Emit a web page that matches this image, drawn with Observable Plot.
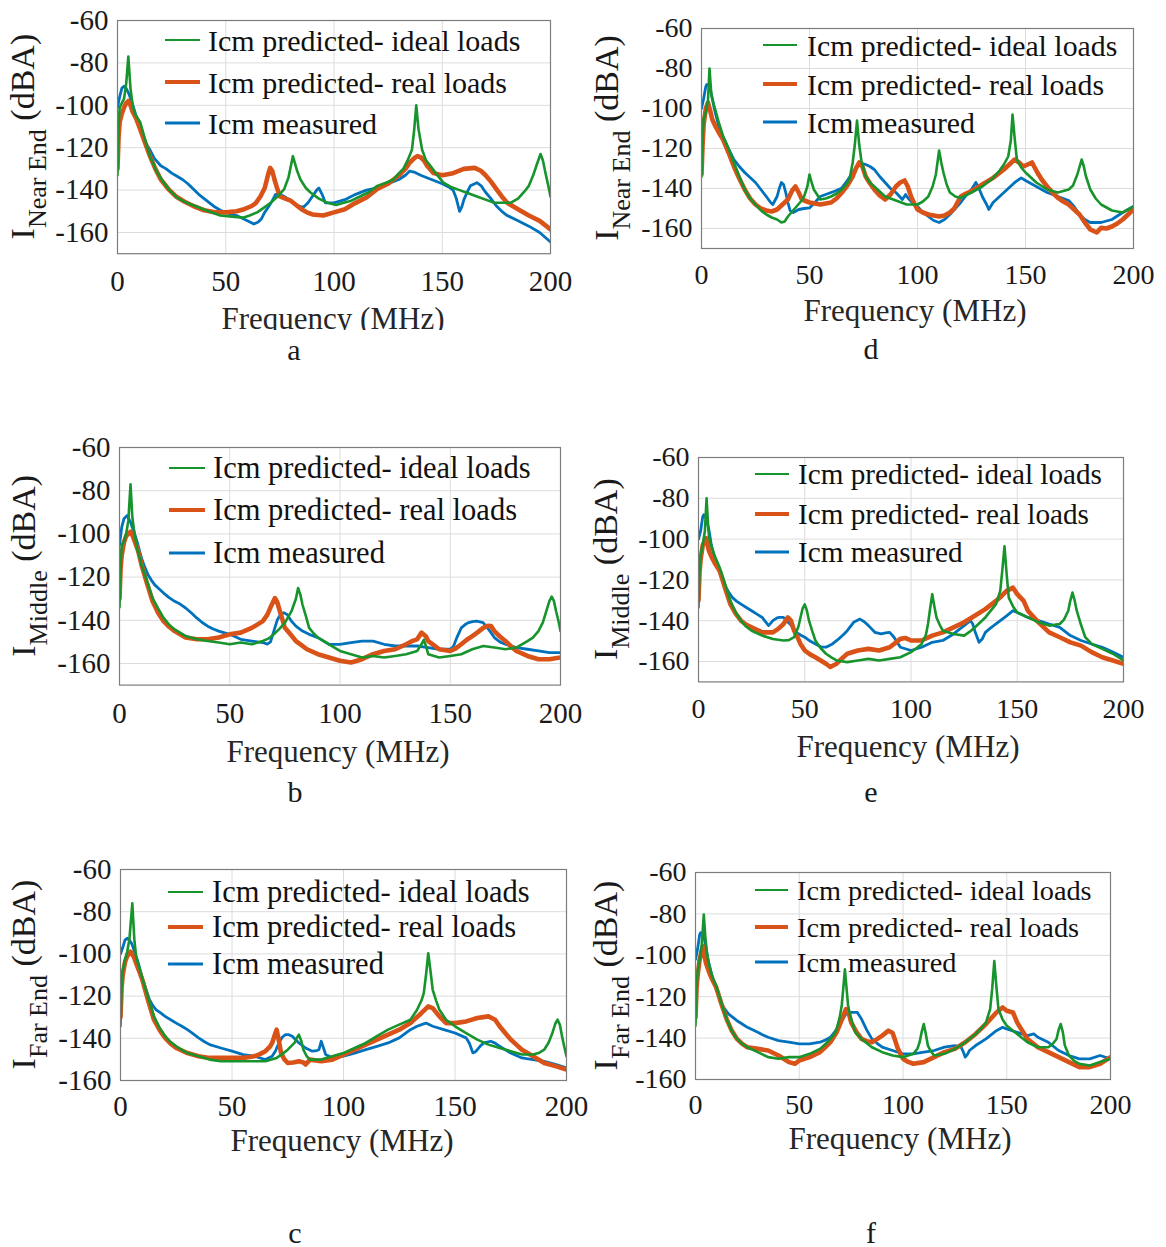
<!DOCTYPE html>
<html><head><meta charset="utf-8">
<script src="https://cdn.jsdelivr.net/npm/d3@7"></script>
<script src="https://cdn.jsdelivr.net/npm/@observablehq/plot@0.6"></script>
<style>
html,body{margin:0;padding:0;background:#fff;}
body{width:1166px;height:1247px;position:relative;overflow:hidden;font-family:"Liberation Serif","Times New Roman",serif;}
.panel{position:absolute;}
.cap{position:absolute;font-size:30px;color:#1a1a1a;transform:translate(-50%,-50%);line-height:1;}
</style></head><body>
<script>
// ---- axis ticks ----
const xTicks = [0, 50, 100, 150, 200];
const yTicks = [-60, -80, -100, -120, -140, -160];
const seriesLabels = ["Icm predicted- ideal loads", "Icm predicted- real loads", "Icm measured"];
const yLabelSubs = {a: "Near End", b: "Middle", c: "Far End", d: "Near End", e: "Middle", f: "Far End"};

// ---- data: [frequency MHz, level dBA] ----
// panel a (Near End)
const aIdeal = [[0,-133],[0.5,-110],[1,-101],[2,-99],[3,-97],[4,-90],[5,-77],[6,-92],[7,-100],[8,-104],[10.5,-108],[13,-117],[15,-124],[18,-131],[21,-136],[24,-140],[27.5,-143.5],[32,-146],[37,-148],[42,-150],[47.5,-152],[53,-152.5],[58,-153],[61,-152],[64.5,-150.5],[68,-148],[70.7,-146],[74,-143],[77,-139.5],[79,-134],[81,-124],[83,-131],[84.5,-135],[87,-139],[89,-141],[93,-144],[97,-146],[101,-147],[104.5,-146],[108,-145],[112,-143],[116,-141],[120,-138],[124,-136.5],[127.5,-135],[130,-132],[132,-130],[134,-126],[136,-121],[137,-112],[138,-100],[139,-111],[140.7,-121],[142.5,-126],[144.5,-128.5],[147,-132],[150.5,-136.5],[154,-138.5],[158,-140],[162,-141.5],[166,-143],[170,-144.5],[174,-146],[178,-146],[181.5,-146],[185,-144],[187.7,-141],[190,-138],[192,-133],[194,-127],[195.4,-123],[196.5,-126],[197.7,-132],[199,-138],[200,-143]];
const aReal = [[0,-130],[0.5,-115],[1,-108],[2,-104],[3,-101],[4,-99],[5,-98],[6,-100],[7,-103],[8.5,-106],[10,-110],[12.5,-117],[15,-124],[17.5,-130],[20,-135],[23.5,-139.5],[27,-143],[31,-145.5],[35,-147.5],[40,-149.5],[45,-150.5],[50,-150.5],[55,-150],[58.5,-149],[62,-147.5],[64,-146],[66,-143],[68,-139],[69.5,-133],[70.5,-129.5],[71.5,-131],[72.5,-135],[74,-140],[75,-143],[77.5,-144],[80,-145],[82.5,-147],[85,-149],[87.5,-150.5],[90,-151.5],[95,-152],[100,-150.5],[105,-149],[110,-146],[115,-143.5],[120,-139.5],[125,-137],[130,-133],[133,-130],[135,-127],[137,-125],[138.5,-124],[140,-124.5],[141.5,-126],[143,-128.5],[146,-132],[150,-133],[155,-132],[160,-130],[165,-129.5],[168,-131],[170,-133],[172.5,-136],[175,-139.5],[177.5,-143],[180,-146],[185,-149],[190,-152],[195,-154.5],[200,-158.5]];
const aMeasured = [[0,-101],[1,-96],[2,-92],[3,-91],[4,-92],[5,-94],[6.5,-98],[8,-103],[10,-110],[12.5,-117],[15,-121],[17,-125],[20,-128.5],[22.5,-130],[25,-132],[27.5,-133.5],[30,-135],[32.5,-137],[35,-139.5],[37.5,-142],[40,-144],[42.5,-146],[45,-148],[47.5,-149.5],[50,-150.5],[55,-152],[60,-154.5],[63,-156],[65,-155],[66.5,-153.5],[68,-150.5],[70,-147.5],[71.5,-145],[73,-142],[75,-142],[77,-143],[80,-145],[83,-147.5],[86,-148],[88,-146],[90,-143],[92,-140],[93,-139],[94.5,-142],[96,-146],[100,-146],[105,-144.5],[110,-142],[115,-140],[120,-139],[125,-137],[130,-135],[133,-133],[135,-131],[137,-131.5],[140,-133],[145,-135],[150,-137],[153,-138.5],[155,-140],[156.5,-144],[158,-150],[159,-148],[160,-144.5],[161.5,-141],[163,-138],[166,-136.5],[168,-138],[170,-141],[172.5,-144],[175,-147.5],[177.5,-150],[180,-152],[185,-154.5],[190,-157],[195,-160],[200,-164.5]];
// panel d (Near End)
const dIdeal = [[0,-134],[0.5,-115],[1,-105],[2,-102],[3,-96],[3.7,-80],[4.5,-92],[5,-95.5],[6.5,-101],[8,-107],[10,-114],[12.5,-120],[15,-127],[17.5,-134],[20,-140.5],[22.5,-145],[25,-148],[27.5,-151],[30,-153],[32.5,-154.5],[35,-155.5],[37,-157],[38.5,-156.5],[40,-154],[42,-151.5],[44,-149],[46,-146.5],[47.5,-144],[49,-139],[50,-133],[51,-137],[52,-140.5],[55,-145.5],[57.5,-145],[60,-144],[62.5,-142.5],[65,-140.5],[67,-138],[68.5,-135.5],[70,-127],[71,-118],[72,-106],[73,-118],[74,-126],[76,-134],[78,-137],[80,-139],[85,-144],[90,-146],[95,-148],[100,-148],[102.5,-146.5],[105,-144],[107,-139],[108.5,-133],[110,-121],[111,-127],[112,-132],[113.5,-138],[115,-142],[117.5,-144],[120,-144.7],[125,-142],[130,-139],[135,-134.7],[138,-131],[140,-128],[142,-124],[143.2,-116],[144,-103],[145,-115],[146,-125.5],[148,-129.5],[150,-132],[155,-137],[160,-140.5],[165,-142],[170,-140.5],[172,-138.5],[174,-133],[176,-125.5],[177,-129],[178,-134],[180,-140.5],[182.5,-145],[185,-148],[190,-151],[195,-152],[200,-149]];
const dReal = [[0,-133],[0.5,-118],[1,-108],[2,-100],[3,-97],[4,-101],[5,-105.5],[6.5,-109],[8,-112],[10,-115.5],[12.5,-122],[15,-129],[17.5,-135],[20,-140.5],[22.5,-145],[25,-148],[27.5,-150],[30,-151],[32.5,-151.5],[35,-150.5],[37.5,-148],[40,-145.5],[42,-141],[43.5,-139],[45,-142],[46.5,-145.5],[50,-147],[55,-148],[60,-147],[62.5,-145],[65,-142],[67.5,-138.5],[70,-134],[71.5,-130],[73,-127],[74.5,-129],[76,-134],[78,-137.5],[80,-140.5],[82.5,-143.5],[85,-145.5],[87.5,-143],[90,-139],[92,-137],[94,-136],[95.5,-139],[97,-144],[98.5,-147.5],[100,-150.5],[102.5,-152],[105,-153],[107.5,-153.5],[110,-154],[112.5,-153.5],[115,-152],[117,-150],[118,-148],[120,-144],[122.5,-142.5],[125,-141.3],[130,-138],[135,-134.7],[140,-130.5],[143,-127.5],[145,-125.5],[147,-127],[149,-129],[151,-128],[153,-127],[154.5,-130],[155.5,-132],[157.5,-135.5],[160,-139],[162.5,-142],[165,-144.7],[167.5,-146.5],[170,-148],[172.5,-150.5],[175,-153],[177.5,-157],[180,-160.5],[183,-162],[185,-159.7],[187.5,-160],[190,-159],[192.5,-157.5],[195,-155.5],[197.5,-153],[200,-150.5]];
const dMeasured = [[0,-100],[1,-95],[2,-89],[2.5,-88],[3.5,-89],[4,-90.5],[5,-95],[6,-100.5],[8,-109],[10,-114],[12.5,-120],[15,-125.5],[17.5,-129],[20,-132],[22.5,-134.5],[25,-137],[27.5,-140.5],[30,-144],[32,-147],[33,-148],[34,-146],[35,-144],[36,-140],[37,-137],[38,-138],[39,-142],[40,-147],[41,-151],[42.5,-152],[45,-150.5],[47.5,-150],[50,-149.7],[52.5,-147],[55,-144],[57.5,-143],[60,-142],[62.5,-141],[65,-139.7],[67.5,-136],[70,-132],[73,-127],[76,-128],[78,-129],[80,-130.5],[82.5,-134],[85,-137],[87.5,-140],[90,-142],[93,-145.5],[94.5,-143],[95,-144],[97.5,-147],[100,-149],[102.5,-152],[105,-154],[107.5,-156],[110,-157],[112.5,-155.5],[115,-153],[117.5,-150],[120,-147],[122.5,-143.5],[125,-140.5],[127,-137],[128.5,-140],[130,-144],[132,-148],[133,-150.5],[135,-147],[137.5,-144.5],[140,-142],[142.5,-139.5],[145,-137],[148,-134.7],[150,-136],[155,-139],[160,-142],[165,-144],[170,-146],[172.5,-149],[175,-153],[177.5,-155.5],[180,-157],[185,-157],[190,-155.5],[195,-152],[200,-149]];
// panel b (Middle)
const bIdeal = [[0,-134],[0.5,-115],[1,-105],[2,-103.7],[3,-100],[4,-94],[5,-77],[5.8,-92],[6.5,-97.6],[8,-106.8],[10,-114.4],[12.5,-122],[15,-129.7],[17.5,-134.5],[20,-138.9],[22.5,-142],[25,-144.2],[30,-147.3],[35,-148.8],[40,-149.6],[45,-150.3],[50,-151.1],[55,-150.3],[60,-151.1],[65,-149.6],[67.5,-148.5],[70,-146.5],[72.5,-144],[75,-141.2],[78,-135.8],[80,-130],[81,-125.1],[82,-128],[83,-132.8],[84.5,-138],[86,-143.5],[88,-146],[90,-148],[95,-151.1],[100,-154.2],[105,-155.7],[110,-157.2],[115,-156.5],[120,-157.2],[125,-156.5],[130,-155.7],[135,-154.2],[137,-151],[138,-149],[139,-152],[140,-155.7],[145,-157.2],[150,-156.5],[155,-155.7],[160,-153.4],[165,-151.9],[170,-152.6],[175,-153.4],[180,-152.6],[185,-149.6],[187.5,-148],[190,-145],[192,-141],[193.5,-136],[195,-131],[196,-129],[197,-131],[198,-135.8],[199,-140],[200,-145]];
const bReal = [[0,-130],[0.5,-116],[1,-110],[2,-104],[3,-101],[4,-100],[5,-99],[6,-101],[7,-103.7],[8.5,-108],[10,-114.4],[12.5,-123],[15,-131.2],[17.5,-136.5],[20,-140.4],[22.5,-143],[25,-145],[30,-148],[35,-148.8],[40,-148.8],[45,-148],[50,-146.5],[55,-145.7],[60,-143.5],[62.5,-142],[65,-140.4],[67,-137.5],[68.5,-134],[70.5,-129.7],[71.5,-131.5],[72.5,-135],[74,-140],[75,-143.5],[77.5,-146.5],[80,-149.6],[82.5,-151.5],[85,-153.4],[90,-155.7],[95,-157.2],[100,-158.7],[105,-159.5],[110,-158],[115,-155.7],[120,-154.2],[125,-153.4],[130,-151.1],[133,-149.5],[135,-148.8],[137,-145.7],[139,-147.5],[140,-149.6],[142.5,-151.5],[145,-153.4],[150,-154.2],[152.5,-153],[155,-151.1],[157.5,-149],[160,-147.3],[162.5,-145.5],[165,-143.5],[167,-142.5],[168.5,-142.7],[170,-145],[172.5,-147.5],[175,-149.6],[177.5,-152],[180,-154.2],[185,-156.5],[190,-158],[195,-158],[200,-157.2]];
const bMeasured = [[0,-105],[1,-97],[2,-93],[3.5,-91.5],[5,-94.5],[6.5,-99],[8,-103.7],[10,-111.3],[11.5,-115.5],[13,-119],[14.5,-121.5],[16,-123.6],[18,-125.5],[20,-127.4],[22.5,-129.5],[25,-131.2],[27.5,-132.5],[30,-134.3],[32.5,-136.5],[35,-138.9],[37.5,-141],[40,-142.7],[42.5,-144],[45,-145],[50,-146.5],[55,-148.8],[60,-149.6],[65,-150.3],[67,-151],[68.5,-150],[70,-145],[71.5,-140],[73,-137.3],[74.5,-136.5],[76,-137.3],[78,-140.4],[80,-142.7],[83,-145],[86,-146.5],[90,-148],[95,-151.1],[100,-151.1],[105,-150.3],[110,-149.6],[115,-149.6],[120,-151.1],[125,-151.9],[130,-151.9],[135,-151.9],[140,-152.6],[145,-153.4],[150,-153.4],[151.5,-152],[153,-148],[155,-143.5],[157,-141.8],[158,-141.2],[160,-140.6],[162,-140.4],[164,-140.8],[165,-141.2],[166.5,-143],[168,-145],[170,-148],[172.5,-150],[175,-151.1],[180,-152.6],[185,-153.4],[190,-154.2],[195,-155],[200,-155]];
// panel e (Middle)
const eIdeal = [[0,-133.5],[0.5,-115],[1,-108],[2,-102.7],[3,-96],[3.8,-80],[4.5,-93],[5,-99.5],[6.5,-105],[8,-109.2],[10,-114],[12.5,-122],[15,-130.3],[17.5,-136],[20,-140],[22.5,-143],[25,-144.9],[30,-147.3],[35,-149],[40,-149.7],[42.5,-149.5],[45,-148],[47,-143],[48,-138.4],[49,-134],[50,-132],[51,-135],[52,-140],[53.5,-145],[55,-149.7],[57.5,-153.5],[60,-156.2],[62.5,-158],[65,-159.5],[70,-160.3],[75,-159.5],[80,-158.7],[85,-159.5],[90,-158.7],[95,-157.9],[100,-155.4],[102.5,-153.5],[105,-151.4],[107,-147],[108,-141.6],[109,-134],[110,-127],[111,-133],[112,-138.4],[113.5,-142],[115,-144.9],[120,-146.5],[125,-147.3],[127.5,-145.5],[130,-143.3],[135,-138.4],[140,-131.9],[142,-125.4],[143,-115],[144,-103.5],[145,-117],[146,-128.7],[148,-133],[150,-136],[155,-138.4],[160,-140.8],[165,-142.4],[170,-141.6],[172,-139.5],[174,-135.1],[175,-130],[176,-126.2],[177,-130],[178,-135.1],[180,-142],[182,-148.1],[185,-151.4],[190,-153.8],[195,-156.2],[200,-159.5]];
const eReal = [[0,-130],[0.5,-116],[1,-110],[2,-103],[3.5,-99.5],[5,-106],[6.5,-109.5],[8,-112.4],[10,-115.7],[12.5,-124],[15,-131.9],[17.5,-136.5],[20,-140],[22.5,-142],[25,-143.3],[30,-145.7],[35,-145.7],[37.5,-144],[40,-141.6],[42,-138.4],[43.5,-140],[45,-144.9],[47,-149],[48,-151.4],[50,-154.6],[52.5,-156.5],[55,-157.9],[57.5,-159.5],[60,-161.1],[62,-162.7],[65,-161.1],[67.5,-158.5],[70,-156.2],[75,-154.6],[80,-153.8],[85,-154.6],[90,-153],[92.5,-151],[95,-148.9],[97.5,-148.5],[100,-149.7],[105,-149.7],[110,-147.3],[115,-145.7],[120,-143.3],[125,-140.8],[130,-137.6],[135,-134.3],[140,-130.3],[142.5,-128],[145,-125.4],[148,-123.8],[150,-127],[153,-130.3],[155,-135.1],[157.5,-138],[160,-140.8],[165,-145.7],[170,-148.1],[175,-150.6],[180,-152.2],[185,-155.4],[190,-157.9],[195,-159.5],[200,-161.1]];
const eMeasured = [[0,-100],[1,-96],[2,-89],[2.5,-88.1],[3.5,-89.5],[4,-91.4],[5,-96],[6,-102.7],[8,-110.8],[10,-116.5],[11.5,-120.5],[13,-123.8],[14.5,-126.5],[16,-128.7],[18,-130.5],[20,-131.9],[22.5,-133.5],[25,-135.1],[27.5,-136.8],[30,-138.4],[31.5,-140.5],[33,-142.4],[35,-140],[37,-138.6],[38,-138.4],[40,-138.4],[41.5,-140],[43,-141.6],[44.5,-143.5],[46,-145.7],[48,-147],[50,-148.1],[52.5,-150],[55,-151.4],[58,-153],[60,-153],[63,-151.4],[66,-148.9],[68,-147],[70,-144.9],[73,-140.8],[76,-139.2],[78,-140.5],[80,-142.4],[83,-145.7],[86,-146.5],[88,-146],[90,-145.7],[92,-148.1],[95,-153],[100,-154.6],[105,-153],[110,-150.6],[115,-149.7],[120,-146.5],[125,-142.4],[128,-140],[129,-141.5],[130,-144.9],[132,-150.6],[133.5,-149],[135,-145.7],[137.5,-143.5],[140,-141.6],[145,-137.6],[148,-135.1],[150,-136],[155,-138.4],[160,-140],[165,-141.6],[170,-143.3],[175,-147.3],[180,-149.7],[185,-151.4],[190,-153],[195,-155.4],[200,-157.9]];
// panel c (Far End)
const cIdeal = [[0,-134.3],[0.5,-115],[1,-108],[2,-102.8],[3,-99],[4,-93],[5.3,-76],[6.2,-93],[7,-101.3],[8.5,-107],[10,-112.3],[12.5,-121],[15,-129.6],[17.5,-135],[20,-139],[22.5,-141.8],[25,-143.8],[30,-147],[35,-148.5],[40,-150.1],[45,-150.9],[50,-150.9],[55,-150.9],[60,-150.9],[65,-150.9],[70,-149.3],[72.5,-147.5],[75,-145.4],[78,-142.2],[79,-140],[80,-138.3],[81,-141],[82,-145.4],[83.5,-148.5],[85,-150.1],[90,-150.1],[95,-148.5],[100,-147],[105,-144.6],[110,-142.2],[115,-139],[120,-135.9],[125,-133.5],[130,-131.2],[133,-126.5],[135,-122],[136,-118.6],[137,-110],[138,-99.7],[139,-108],[140,-117],[141.5,-122],[143,-126.5],[146,-131.2],[150,-134.3],[155,-137.5],[160,-140.6],[165,-143],[170,-144.6],[175,-146.1],[180,-147.7],[185,-147.7],[187.5,-147],[190,-145.4],[192,-142],[193.5,-138],[195,-133],[196,-131.2],[197,-133.5],[198,-139],[199,-144],[200,-148.5]];
const cReal = [[0,-130],[0.5,-116],[1,-110],[2,-104],[3,-101],[4.5,-98.9],[6,-101.5],[7,-104.4],[8.5,-108.5],[10,-113],[12.5,-122.5],[15,-131.2],[17.5,-136],[20,-139.8],[22.5,-142.5],[25,-144.6],[30,-147],[35,-148.5],[40,-149.3],[45,-149.3],[50,-149.3],[55,-149.3],[60,-148.5],[62.5,-147.5],[65,-146.1],[67,-144],[68,-142.2],[69,-139],[70,-135.9],[71,-141],[72,-147],[73.5,-150],[75,-151.7],[77.5,-151.5],[80,-150.9],[82,-151.5],[83,-152.4],[85,-150.1],[90,-150.9],[95,-150.1],[100,-147.7],[105,-145.4],[110,-143],[115,-140.6],[120,-138.3],[125,-135.9],[130,-132.8],[135,-128],[138,-124.9],[140,-125.7],[143,-129.6],[146,-132.8],[150,-132.8],[155,-132],[160,-130.4],[165,-129.6],[168,-131.2],[170,-134.3],[172.5,-137.5],[175,-140.6],[177.5,-143],[180,-145.4],[185,-148.5],[190,-151.7],[195,-153.2],[200,-154.8]];
const cMeasured = [[0,-100],[1,-97],[2,-93.5],[3,-92.6],[4,-93.5],[5,-95],[6.5,-99.5],[8,-104.4],[10,-112.3],[11.5,-117],[13,-121.7],[14.5,-124.5],[16,-126.5],[18,-128],[20,-129.6],[22.5,-131.2],[25,-132.8],[27.5,-134.3],[30,-135.9],[32.5,-137.8],[35,-139.8],[37.5,-141.5],[40,-143],[45,-144.6],[50,-146.1],[55,-147.7],[60,-148.5],[65,-150.1],[68,-148.5],[69.5,-146],[71,-142.2],[72.5,-139.5],[74,-138.3],[75.5,-138.3],[77,-139],[80,-142.2],[83,-144.6],[86,-146.1],[88,-145.8],[89,-145.4],[90,-141.4],[91,-144.5],[92,-147.7],[95,-149.3],[100,-148.5],[105,-147],[110,-145.4],[115,-143.8],[120,-142.2],[125,-139.8],[130,-135.9],[133,-134.3],[135,-133.5],[137,-132.8],[140,-134.3],[145,-135.9],[150,-137.5],[155,-139.8],[156.5,-142.5],[158,-146.9],[159,-146.5],[160,-145.4],[161.5,-143.5],[163,-142.2],[166,-141.4],[168,-142.3],[170,-143.8],[175,-147],[180,-149.3],[185,-150.1],[190,-150.9],[195,-152.4],[200,-154]];
// panel f (Far End)
const fIdeal = [[0,-134],[0.5,-115],[1,-108],[2,-102],[3,-95],[4,-80.3],[4.8,-92],[5.5,-98.8],[6.5,-104.5],[8,-110],[10,-114.8],[12.5,-123],[15,-130.8],[17.5,-136.5],[20,-140.4],[22.5,-142.8],[25,-144.4],[30,-146.8],[35,-149.2],[40,-150],[45,-149.2],[50,-149.2],[55,-147.6],[60,-145.2],[62.5,-143],[65,-140.4],[67,-138],[68,-135.6],[69.5,-130],[70.5,-124],[71.3,-115],[72,-106.8],[72.8,-116],[73.5,-124],[74.5,-129],[76,-134],[77,-137.2],[80,-140.4],[85,-144.4],[90,-146.8],[95,-148.4],[100,-149.2],[105,-147.6],[107,-145],[108,-142],[109,-137],[110,-133.2],[111,-138],[112,-143.6],[113.5,-146.5],[115,-148.4],[120,-147.6],[125,-145.2],[130,-142],[135,-138],[138,-135],[140,-132.4],[142,-126],[143,-116],[144,-102.8],[145,-115],[146,-126],[148,-131],[150,-134],[155,-138],[160,-142],[165,-144.4],[170,-144.4],[172,-143],[174,-140.4],[175,-136],[176,-133.2],[177,-137],[178,-143.6],[180,-148.4],[182.5,-151],[185,-152.4],[190,-153.2],[195,-151.6],[200,-150]];
const fReal = [[0,-130],[0.5,-116],[1,-110],[2,-102],[3.5,-95.5],[5,-103.6],[6.5,-108],[8,-111.6],[10,-115.6],[12.5,-123.5],[15,-130.8],[17.5,-136.5],[20,-140.4],[22.5,-142.8],[25,-144.4],[30,-145.2],[35,-146],[40,-148.4],[42.5,-150],[45,-151.6],[48,-152.4],[50,-150.8],[55,-149.2],[60,-146.8],[62.5,-144.5],[65,-142],[68,-137.2],[70,-132.4],[72.5,-126],[74,-128.5],[75,-132.4],[77.5,-137],[80,-140.4],[82.5,-141.5],[85,-142],[87.5,-140.5],[90,-138.8],[93,-136.4],[95,-137.5],[96,-140.4],[97.5,-145],[100,-150],[102.5,-151.5],[105,-152.4],[110,-151.6],[115,-149.2],[120,-146.8],[125,-145.2],[130,-142],[135,-138],[140,-133.2],[145,-127.6],[148,-125.2],[150,-126.8],[153,-127.6],[155,-132.4],[157.5,-136.5],[160,-140.4],[165,-144.4],[170,-146.8],[175,-149.2],[180,-151.6],[185,-154],[190,-154],[195,-152.4],[200,-149.2]];
const fMeasured = [[0,-102],[1,-97],[2,-90],[2.5,-89.1],[3.5,-89.5],[4,-90.7],[5,-96],[6,-102],[8,-110],[10,-116.4],[11.5,-120.5],[13,-124.4],[14.5,-126.5],[16,-128.4],[18,-130],[20,-131.6],[22.5,-133.2],[25,-134.8],[27.5,-136],[30,-137.2],[32.5,-138.5],[35,-139.6],[40,-141.2],[45,-142],[50,-142.8],[55,-142.8],[60,-142],[62.5,-141],[65,-139.6],[67.5,-136.5],[70,-132.4],[73,-127.6],[76,-127.6],[78,-127.6],[80,-130.8],[82.5,-136],[85,-140.4],[87.5,-142.5],[90,-144.4],[95,-146],[100,-147.6],[105,-147.6],[110,-146.8],[115,-146],[120,-144.4],[125,-143.6],[128,-144.4],[129,-146.5],[130,-149.2],[131,-148],[132,-146],[135,-143.6],[140,-140.4],[145,-136.4],[148,-134.8],[150,-135.6],[155,-137.2],[160,-138.8],[163,-138],[165,-139.6],[170,-142],[175,-146],[180,-148.4],[185,-150],[190,-150],[195,-148.4],[200,-150]];

// ---- layout (page coordinates) ----
const panels = [
  {id:"a", left:0, top:0, w:580, h:330, x0:117, x1:550, yTop:20, yBot:253.2, yMin:-170, tickPad:17, ylabX:34, xlab:[333,318], leg:[40,82,123], legLine:[165,200], legText:208, legFont:30, cap:[294,350], data:[aIdeal,aReal,aMeasured]},
  {id:"d", left:580, top:0, w:586, h:340, x0:701, x1:1133, yTop:28, yBot:248, yMin:-170, tickPad:15.5, ylabX:618, xlab:[915,310], leg:[45,84,122], legLine:[763,797], legText:807, legFont:29.8, cap:[871,349], data:[dIdeal,dReal,dMeasured]},
  {id:"b", left:0, top:420, w:590, h:350, x0:119, x1:560, yTop:447, yBot:684.6, yMin:-170, tickPad:17.5, ylabX:35, xlab:[338,751], leg:[468,510,553], legLine:[169,205], legText:213, legFont:30.5, cap:[295,792], data:[bIdeal,bReal,bMeasured]},
  {id:"e", left:580, top:430, w:586, h:340, x0:698, x1:1123, yTop:457, yBot:681.4, yMin:-170, tickPad:16, ylabX:617, xlab:[908,746], leg:[474,514,552], legLine:[755,789], legText:798, legFont:29.2, cap:[871,792], data:[eIdeal,eReal,eMeasured]},
  {id:"c", left:0, top:850, w:590, h:320, x0:120, x1:566, yTop:869, yBot:1080, yMin:-160, tickPad:14.5, ylabX:35, xlab:[342,1140], leg:[892,927,964], legLine:[168,203], legText:212, legFont:30.5, cap:[295,1233], data:[cIdeal,cReal,cMeasured]},
  {id:"f", left:580, top:850, w:586, h:320, x0:695, x1:1110, yTop:872, yBot:1079, yMin:-160, tickPad:14.5, ylabX:617, xlab:[900,1138], leg:[890,927,962], legLine:[755,788], legText:797, legFont:28.3, cap:[871,1233], data:[fIdeal,fReal,fMeasured]}
];

const colors = ["#17942c", "#d95319", "#0072bd"];
const plotWidths = [2.6, 4.6, 2.8];
const legendWidths = [1.8, 4, 3];
const FONT = '"Liberation Serif","Times New Roman",serif';

for (const p of panels) {
  const right = p.left > 0;
  const tickFont = right ? 28 : 29;
  const chart = Plot.plot({
    width: p.w,
    height: p.h,
    marginLeft: p.x0 - p.left,
    marginRight: p.left + p.w - p.x1,
    marginTop: p.yTop - p.top,
    marginBottom: p.top + p.h - p.yBot,
    style: {fontFamily: FONT, fontSize: tickFont + "px", color: "#1a1a1a", background: "transparent"},
    x: {domain: [0, 200], label: null},
    y: {domain: [p.yMin, -60], label: null},
    marks: [
      Plot.gridX(xTicks, {stroke: "#dcdcdc", strokeOpacity: 1}),
      Plot.gridY(yTicks, {stroke: "#dcdcdc", strokeOpacity: 1}),
      Plot.line(p.data[2], {stroke: colors[2], strokeWidth: plotWidths[2], clip: true}),
      Plot.line(p.data[1], {stroke: colors[1], strokeWidth: plotWidths[1], clip: true}),
      Plot.line(p.data[0], {stroke: colors[0], strokeWidth: plotWidths[0], clip: true}),
      Plot.frame({stroke: "#7d7d7d", strokeWidth: 1.2}),
      Plot.axisX(xTicks, {tickSize: 0, tickPadding: p.tickPad, label: null, tickFormat: d => String(d)}),
      Plot.axisY(yTicks, {tickSize: 0, tickPadding: 9, label: null, tickFormat: d => String(d)})
    ]
  });
  const wrap = document.createElement("div");
  wrap.className = "panel";
  wrap.style.left = p.left + "px";
  wrap.style.top = p.top + "px";
  wrap.appendChild(chart);
  document.body.appendChild(wrap);

  const svg = d3.select(chart).style("overflow", "hidden");
  const ox = p.left, oy = p.top;
  // y-axis label
  const yl = svg.append("text")
    .attr("transform", `translate(${p.ylabX - ox},${(p.yTop + p.yBot) / 2 - oy}) rotate(-90)`)
    .attr("text-anchor", "middle").attr("fill", "#1a1a1a").style("font-family", FONT);
  yl.append("tspan").attr("font-size", 34).text("I");
  yl.append("tspan").attr("font-size", 26).attr("dy", 12).text(yLabelSubs[p.id]);
  yl.append("tspan").attr("font-size", 34).attr("dy", -12).text(" (dBA)");
  // x-axis label
  svg.append("text").attr("x", p.xlab[0] - ox).attr("y", p.xlab[1] - oy)
    .attr("text-anchor", "middle").attr("dominant-baseline", "central")
    .attr("fill", "#262626").attr("font-size", 31).style("font-family", FONT)
    .text("Frequency (MHz)");
  // legend
  seriesLabels.forEach((lab, i) => {
    const y = p.leg[i] - oy;
    svg.append("line").attr("x1", p.legLine[0] - ox).attr("x2", p.legLine[1] - ox)
      .attr("y1", y).attr("y2", y).attr("stroke", colors[i]).attr("stroke-width", legendWidths[i]);
    svg.append("text").attr("x", p.legText - ox).attr("y", y)
      .attr("text-anchor", "start").attr("dominant-baseline", "central").attr("fill", "#111")
      .attr("font-size", p.legFont).style("font-family", FONT).text(lab);
  });
  // caption
  const cap = document.createElement("div");
  cap.className = "cap";
  cap.style.left = p.cap[0] + "px";
  cap.style.top = p.cap[1] + "px";
  cap.textContent = p.id;
  document.body.appendChild(cap);
}
</script>
</body></html>
